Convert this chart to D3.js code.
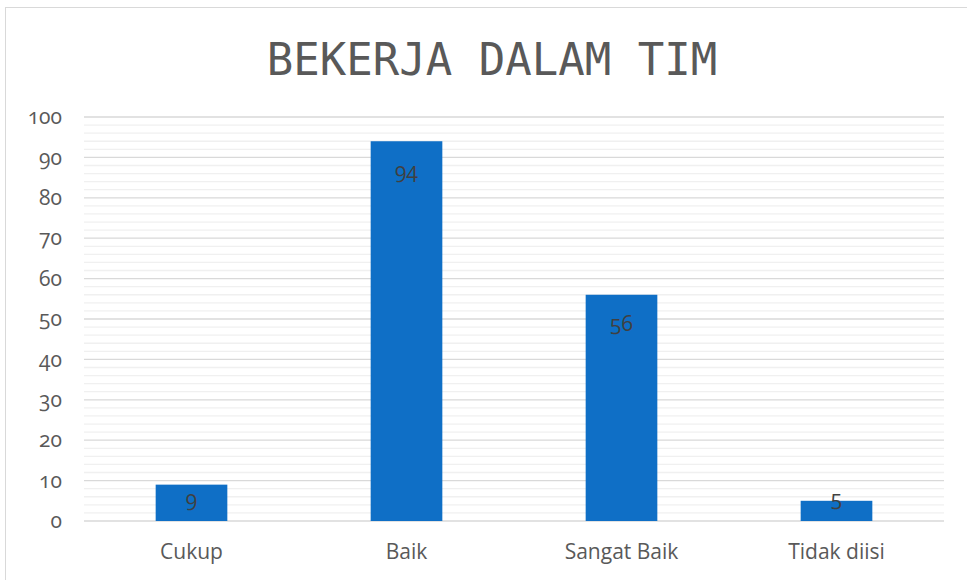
<!DOCTYPE html>
<html>
<head>
<meta charset="utf-8">
<script src="https://cdn.jsdelivr.net/npm/d3@7"></script>
<style>
  body { margin: 0; background: #fff; }
  svg text { font-family: "Open Sans", Lato, sans-serif; font-feature-settings: "onum"; }
</style>
</head>
<body>
<div id="chart"></div>
<script>
// chart data
const categories = ["Cukup", "Baik", "Sangat Baik", "Tidak diisi"];
const values = [9, 94, 56, 5];
const yTicks = [0, 10, 20, 30, 40, 50, 60, 70, 80, 90, 100];
const minorTicks = d3.range(0, 101, 2);
const title = "BEKERJA DALAM TIM";

const width = 967, height = 580;
const plot = { left: 84, right: 944, top: 117, bottom: 521 };

const svg = d3.select("#chart").append("svg")
    .attr("width", width)
    .attr("height", height);

// outer chart border (runs off the right/bottom of the picture)
svg.append("rect")
    .attr("x", 5.5).attr("y", 7.5)
    .attr("width", 1000).attr("height", 600)
    .attr("fill", "#fff")
    .attr("stroke", "#d9d9d9");

const x = d3.scaleBand()
    .domain(categories)
    .range([plot.left, plot.right])
    .paddingInner(2 / 3)
    .paddingOuter(1 / 3);

const y = d3.scaleLinear()
    .domain([0, 100])
    .range([plot.bottom, plot.top]);

const g = svg.append("g");

// minor gridlines
g.selectAll("line.minor")
    .data(minorTicks.filter(d => d % 10 !== 0))
    .join("line")
    .attr("class", "minor")
    .attr("x1", plot.left).attr("x2", plot.right)
    .attr("y1", d => y(d)).attr("y2", d => y(d))
    .attr("stroke", "#f0f0f0")
    .attr("stroke-width", 1.3);

// major gridlines
g.selectAll("line.major")
    .data(yTicks)
    .join("line")
    .attr("class", "major")
    .attr("x1", plot.left).attr("x2", plot.right)
    .attr("y1", d => y(d)).attr("y2", d => y(d))
    .attr("stroke", "#d9d9d9")
    .attr("stroke-width", 1.3);

// y axis labels
const yAxis = d3.axisLeft(y).tickValues(yTicks).tickSize(0).tickPadding(22);
svg.append("g")
    .attr("transform", `translate(${plot.left},0)`)
    .call(yAxis)
    .call(a => a.select(".domain").remove())
    .selectAll("text")
    .attr("font-size", 21)
    .attr("fill", "#595959")
    .attr("font-family", null);

// x axis labels
const xAxis = d3.axisBottom(x).tickSize(0).tickPadding(23);
svg.append("g")
    .attr("transform", `translate(0,${plot.bottom})`)
    .call(xAxis)
    .call(a => a.select(".domain").remove())
    .selectAll("text")
    .attr("font-size", 21)
    .attr("fill", "#595959")
    .attr("font-family", null);

// bars
g.selectAll("rect.bar")
    .data(values)
    .join("rect")
    .attr("class", "bar")
    .attr("x", (d, i) => x(categories[i]))
    .attr("width", x.bandwidth())
    .attr("y", d => y(d))
    .attr("height", d => y(0) - y(d))
    .attr("fill", "#0f6fc6");

// data labels, inside end, kept inside the plot area
g.selectAll("text.val")
    .data(values)
    .join("text")
    .attr("class", "val")
    .attr("x", (d, i) => x(categories[i]) + x.bandwidth() / 2)
    .attr("y", d => Math.min(y(d) + 29, y(0) - 22))
    .attr("dy", "0.35em")
    .attr("text-anchor", "middle")
    .attr("font-size", 21)
    .attr("fill", "#404040")
    .text(d => d);

// title
svg.append("text")
    .attr("x", 492)
    .attr("y", 75)
    .attr("text-anchor", "middle")
    .style("font-family", "'DejaVu Sans Mono', monospace")
    .attr("font-size", 44)
    .attr("fill", "#595959")
    .text(title);
</script>
</body>
</html>
